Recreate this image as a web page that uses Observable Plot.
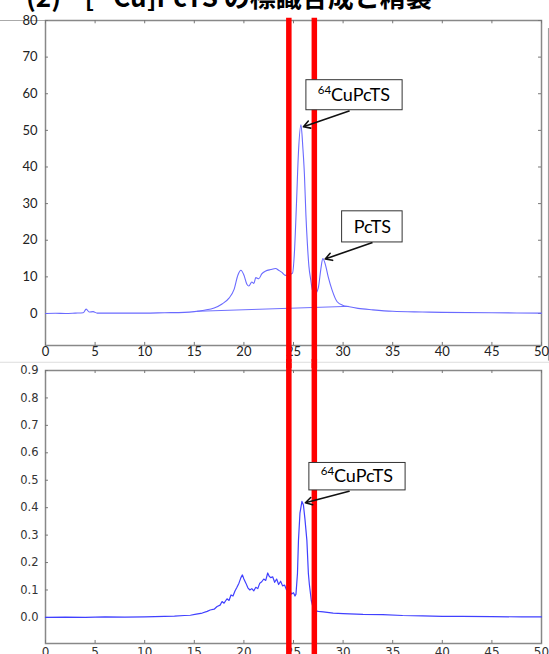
<!DOCTYPE html>
<html><head><meta charset="utf-8">
<script src="https://cdn.jsdelivr.net/npm/d3@7"></script>
<script src="https://cdn.jsdelivr.net/npm/@observablehq/plot@0.6"></script>
<style>
body{margin:0;width:549px;height:654px;overflow:hidden;background:#fff;position:relative}
#title{position:absolute;left:26px;top:-26px;font:bold 26px "Noto Sans CJK JP";white-space:pre;z-index:2;line-height:32px;color:#000}
#title sup{font-size:16px}
#top{position:absolute;left:0;top:0}
#bot{position:absolute;left:0;top:360px}
</style></head><body>
<div id="top"></div><div id="bot"></div>
<div id="title">(2)    [<sup>64</sup>Cu]PcTS の標識合成と精製</div>
<script>
// ---- data ----
const xTicks = [0, 5, 10, 15, 20, 25, 30, 35, 40, 45, 50];
const topYTicks = [0, 10, 20, 30, 40, 50, 60, 70, 80];
const botYTicks = [0, 0.1, 0.2, 0.3, 0.4, 0.5, 0.6, 0.7, 0.8, 0.9];

// top chromatogram (UV)
const topTime = [0,1,2,3,3.8,4.1,4.4,4.8,5.2,6,8,10,12,14,15,16,17,17.8,18.5,19.0,19.4,19.7,20.0,20.3,20.5,20.8,21.0,21.2,21.5,21.8,22.2,22.7,23.2,23.5,23.8,24.2,24.6,24.9,25.1,25.3,25.5,25.75,25.95,26.1,26.25,26.4,26.55,26.75,26.9,27.2,27.5,27.75,27.95,28.2,28.5,28.9,29.4,30,30.5,31.5,33,35,38,40,45,50];
const topSignal = [0,0.05,0,0.1,0.2,1.2,0.4,0.5,0.1,0.1,0.1,0.1,0.2,0.3,0.5,0.9,1.5,2.6,4.2,6.5,10.5,11.8,10.5,8.0,7.5,8.6,8.2,9.8,9.5,10.8,11.6,12.0,12.3,11.8,11.3,10.4,10.6,11,17,30,44,51.5,45,38,27,19,13,9,6.5,5.5,7,12,15,13.5,10,6.3,3.2,2.2,1.9,1.4,1.0,0.6,0.4,0.3,0.2,0.1];
const baseTime = [15.3, 30.5];
const baseSignal = [0.6, 1.95];

// bottom chromatogram (radio)
const botTime = [0,2,4,6,8,10,12,13,14,14.6,15.2,15.8,16.3,16.6,17.0,17.3,17.6,17.8,18.0,18.3,18.5,18.7,18.9,19.1,19.3,19.5,19.7,19.85,20.0,20.2,20.4,20.6,20.8,21.0,21.2,21.4,21.6,21.8,22.0,22.2,22.4,22.55,22.7,22.9,23.1,23.3,23.5,23.7,23.9,24.1,24.3,24.6,24.8,25.0,25.15,25.25,25.4,25.5,25.65,25.85,26.0,26.15,26.35,26.5,26.6,26.8,27.05,27.5,28,29,30,32,34,36,38,40,42,45,48,50];
const botSignal = [0,0.001,0,0.002,0.001,0.002,0.004,0.005,0.007,0.008,0.012,0.016,0.022,0.027,0.03,0.04,0.045,0.058,0.052,0.068,0.062,0.082,0.078,0.096,0.11,0.125,0.145,0.155,0.14,0.125,0.108,0.1,0.105,0.097,0.11,0.105,0.125,0.13,0.14,0.135,0.162,0.15,0.145,0.148,0.128,0.14,0.12,0.132,0.115,0.118,0.1,0.102,0.085,0.09,0.078,0.085,0.16,0.28,0.38,0.423,0.41,0.36,0.28,0.16,0.12,0.06,0.025,0.022,0.02,0.016,0.014,0.011,0.01,0.007,0.006,0.004,0.004,0.003,0.002,0.002];

const cutTimes = [24.53, 27.10];

// annotations: label, isotope superscript, box corners, arrow start/end (data units)
const topNotes = [
  {label: "CuPcTS", sup: "64", bx1: 26.3, bx2: 36.0, by1: 55.5, by2: 63.7, ax1: 30.6, ay1: 55.3, ax2: 26.0, ay2: 51.0},
  {label: "PcTS", sup: "", bx1: 29.9, bx2: 36.0, by1: 19.4, by2: 27.9, ax1: 32.9, ay1: 19.3, ax2: 28.2, ay2: 14.9}
];
const botNotes = [
  {label: "CuPcTS", sup: "64", bx1: 26.6, bx2: 36.3, by1: 0.463, by2: 0.563, ax1: 30.6, ay1: 0.46, ax2: 26.2, ay2: 0.418}
];

// ---- drawing ----
const topData = topTime.map((t, i) => ({t, v: topSignal[i]}));
const baseData = baseTime.map((t, i) => ({t, v: baseSignal[i]}));
const botData = botTime.map((t, i) => ({t, v: botSignal[i]}));

function noteMarks(notes) {
  const withSup = notes.filter(d => d.sup);
  const plain = notes.filter(d => !d.sup);
  return [
    Plot.rect(notes, {x1: "bx1", x2: "bx2", y1: "by1", y2: "by2", fill: "white", stroke: "#333", strokeWidth: 1}),
    Plot.text(plain, {x: d => (d.bx1 + d.bx2) / 2, y: d => (d.by1 + d.by2) / 2, text: "label", fontSize: 18, fontFamily: "Lato", fill: "#000"}),
    Plot.text(withSup, {x: d => (d.bx1 + d.bx2) / 2, y: d => (d.by1 + d.by2) / 2, text: "label", dx: 6, fontSize: 18, fontFamily: "Lato", fill: "#000"}),
    Plot.text(withSup, {x: d => (d.bx1 + d.bx2) / 2, y: d => (d.by1 + d.by2) / 2, text: "sup", dx: -30, dy: -5, fontSize: 11.5, fontFamily: "Lato", fill: "#000"}),
    Plot.arrow(notes, {x1: "ax1", y1: "ay1", x2: "ax2", y2: "ay2", stroke: "#111", strokeWidth: 1.6, headLength: 7})
  ];
}

const topPlot = Plot.plot({
  width: 549, height: 360,
  marginLeft: 45, marginRight: 8, marginTop: 20, marginBottom: 15,
  style: {background: "transparent", overflow: "visible"},
  x: {domain: [0, 50], axis: null},
  y: {domain: [-8.74, 80], axis: null},
  marks: [
    Plot.ruleY([80], {x1: -4.6, x2: 0, stroke: "#aaa", strokeWidth: 1}),
    Plot.ruleX([50.7], {y1: 77.8, y2: -13, stroke: "#999", strokeWidth: 1}),
    Plot.frame({stroke: "#888", strokeWidth: 1.5}),
    Plot.ruleX(xTicks, {x: d => d, y1: -8.74, y2: -7.9, stroke: "#777"}),
    Plot.ruleX(xTicks, {x: d => d, y1: 80, y2: 79.1, stroke: "#777"}),
    Plot.ruleY(topYTicks, {y: d => d, x1: 0, x2: 0.3, stroke: "#777"}),
    Plot.ruleY(topYTicks, {y: d => d, x1: 50, x2: 49.7, stroke: "#777"}),
    Plot.axisX(xTicks, {tickSize: 0, tickPadding: 1, fontSize: 13, fontFamily: "Lato", fill: "#222"}),
    Plot.axisY(topYTicks, {tickSize: 0, tickPadding: 8, fontSize: 13, fontFamily: "Lato", fill: "#222"}),
    Plot.line(baseData, {x: "t", y: "v", stroke: "#7070ff", strokeWidth: 1}),
    Plot.line(topData, {x: "t", y: "v", stroke: "#6a6aff", strokeWidth: 1.1, curve: "monotone-x"}),
    Plot.ruleX(cutTimes, {x: d => d, y1: 80.6, y2: -15, stroke: "#ff0000", strokeWidth: 5.5}),
    ...noteMarks(topNotes)
  ]
});
document.getElementById("top").append(topPlot);

const botPlot = Plot.plot({
  width: 549, height: 294,
  marginLeft: 45, marginRight: 8, marginTop: 10, marginBottom: 11,
  style: {background: "transparent", overflow: "visible"},
  x: {domain: [0, 50], axis: null},
  y: {domain: [-0.095, 0.9], axis: null},
  marks: [
    Plot.ruleY([0.93], {x1: -4.6, x2: 50.8, stroke: "#ddd", strokeWidth: 1}),
    Plot.frame({stroke: "#888", strokeWidth: 1.5}),
    Plot.ruleX(xTicks, {x: d => d, y1: -0.095, y2: -0.084, stroke: "#777"}),
    Plot.ruleX(xTicks, {x: d => d, y1: 0.9, y2: 0.889, stroke: "#777"}),
    Plot.ruleY(botYTicks, {y: d => d, x1: 0, x2: 0.3, stroke: "#777"}),
    Plot.axisX(xTicks, {tickSize: 0, tickPadding: 4, fontSize: 12, fontFamily: "DejaVu Sans", fill: "#333"}),
    Plot.axisY(botYTicks, {tickSize: 0, tickPadding: 7, fontSize: 11.5, fontFamily: "DejaVu Sans", fill: "#333"}),
    Plot.line(botData, {x: "t", y: "v", stroke: "#4040ff", strokeWidth: 1.2}),
    Plot.ruleX(cutTimes, {x: d => d, y1: 0.94, y2: -0.2, stroke: "#ff0000", strokeWidth: 5.5}),
    ...noteMarks(botNotes)
  ]
});
document.getElementById("bot").append(botPlot);
</script>
</body></html>
